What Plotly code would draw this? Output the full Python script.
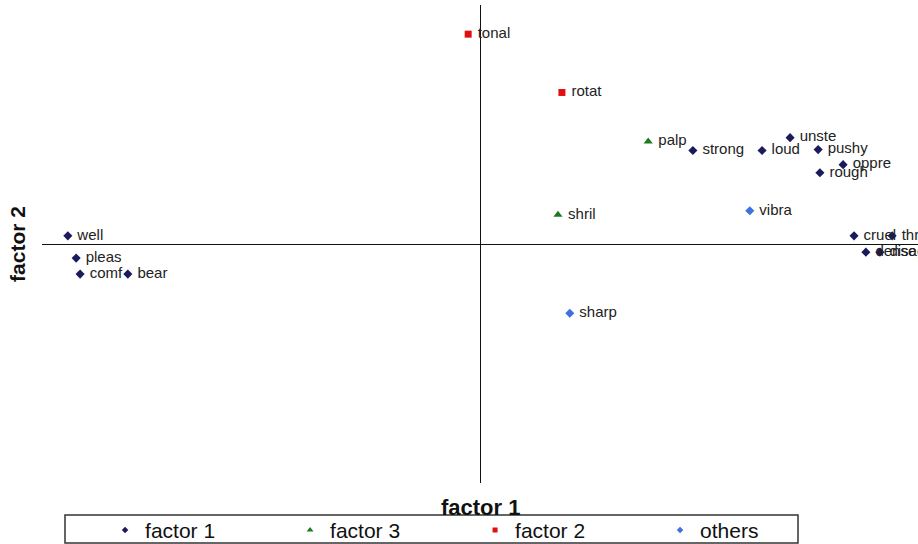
import plotly.graph_objects as go

# Factor loadings (factor 1 on x, factor 2 on y), grouped by the factor each item loads on
f1_labels = ["well", "pleas", "comf", "bear", "strong", "loud", "unste", "pushy",
             "oppre", "rough", "cruel", "threa", "dense", "disag"]
f1_x = [-0.941, -0.922, -0.913, -0.804, 0.486, 0.644, 0.708, 0.772,
        0.829, 0.776, 0.854, 0.941, 0.881, 0.913]
f1_y = [0.034, -0.059, -0.126, -0.126, 0.391, 0.391, 0.445, 0.395,
        0.332, 0.298, 0.034, 0.034, -0.034, -0.034]

f3_labels = ["palp", "shril"]
f3_x = [0.384, 0.178]
f3_y = [0.429, 0.122]

f2_labels = ["tonal", "rotat"]
f2_x = [-0.027, 0.187]
f2_y = [0.878, 0.634]

oth_labels = ["vibra", "sharp"]
oth_x = [0.616, 0.205]
oth_y = [0.139, -0.290]

groups = [
    ("factor 1", f1_x, f1_y, f1_labels, "diamond", "#1b1a5c", 7),
    ("factor 3", f3_x, f3_y, f3_labels, "triangle-up", "#1f7a1f", 8),
    ("factor 2", f2_x, f2_y, f2_labels, "square", "#e01010", 7),
    ("others", oth_x, oth_y, oth_labels, "diamond", "#3f6fe0", 7),
]

fig = go.Figure()
for name, xs, ys, labels, sym, col, sz in groups:
    fig.add_trace(go.Scatter(
        x=xs, y=ys, text=[" " + t for t in labels], name=name,
        mode="markers+text", textposition="middle right",
        marker=dict(symbol=sym, color=col, size=sz),
        textfont=dict(family="Arial, Liberation Sans", size=15, color="#222"),
        cliponaxis=False, showlegend=False,
    ))
    # legend entry with a smaller symbol
    fig.add_trace(go.Scatter(
        x=[None], y=[None], name=name, mode="markers",
        marker=dict(symbol=sym, color=col, size=sz - 2),
        showlegend=True,
    ))

axis_common = dict(range=[-1, 1], showgrid=False, showticklabels=False, ticks="",
                   zeroline=True, zerolinecolor="#111", zerolinewidth=1,
                   showline=False, fixedrange=True)

fig.update_layout(
    width=918, height=544,
    margin=dict(l=42, r=0, t=5, b=61, autoexpand=False),
    plot_bgcolor="white", paper_bgcolor="white",
    xaxis=axis_common, yaxis=axis_common,
    font=dict(family="Arial, Liberation Sans", color="#111"),
    showlegend=True,
    legend=dict(
        orientation="h", x=0.072, y=-0.056, xanchor="left", yanchor="top",
        entrywidth=140, entrywidthmode="pixels",
        borderwidth=0, bgcolor="rgba(0,0,0,0)",
        font=dict(size=21, family="Arial, Liberation Sans", color="#111"),
        itemsizing="trace",
    ),
    shapes=[
        # frame around the legend row
        dict(type="rect", xref="paper", yref="paper",
             x0=(65 - 42) / 876, x1=(798 - 42) / 876,
             y0=-(543 - 483) / 478, y1=-(515 - 483) / 478,
             line=dict(color="#333", width=1.5), fillcolor="rgba(0,0,0,0)"),
    ],
    annotations=[
        dict(text="<b>factor 1</b>", xref="paper", yref="paper", x=0.5, y=-0.021,
             xanchor="center", yanchor="top", showarrow=False,
             font=dict(size=22, family="Arial, Liberation Sans")),
        dict(text="<b>factor 2</b>", xref="paper", yref="paper", x=-0.044, y=0.5,
             xanchor="left", yanchor="middle", textangle=-90, showarrow=False,
             font=dict(size=21, family="Arial, Liberation Sans")),
    ],
)

fig.write_html("out.html")
